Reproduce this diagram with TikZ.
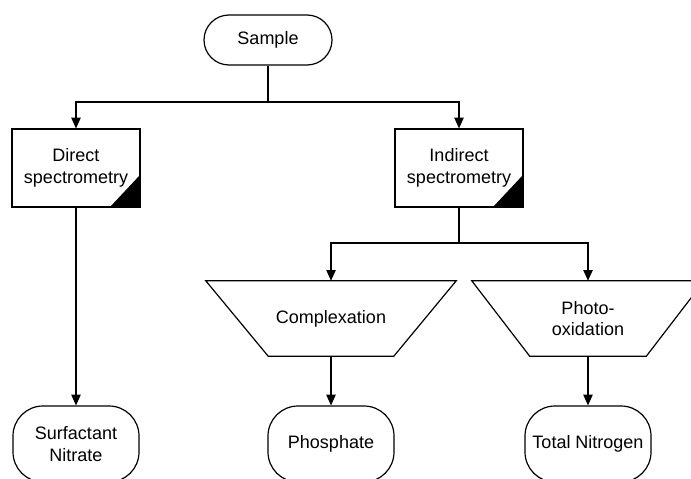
\documentclass[tikz,border=0pt]{standalone}
\usepackage{fontspec}
\setmainfont{Liberation Sans}
\usetikzlibrary{positioning,arrows.meta}

\begin{document}
\begin{tikzpicture}[x=0.75pt,y=-0.75pt,
    every node/.style={font=\fontsize{13.5}{16}\selectfont,align=center},
    line/.style={line width=0.9pt},
    arr/.style={line width=0.9pt,-{Triangle[length=8pt,width=7pt]}},
    startbox/.style={draw,line width=0.9pt,rounded corners=18.75pt,minimum width=96pt,minimum height=37.5pt},
    methodbox/.style={draw,line width=0.9pt,minimum width=96pt,minimum height=58.5pt,
        path picture={\fill ([xshift=-22.5pt]path picture bounding box.south east) -- (path picture bounding box.south east) -- ([yshift=24pt]path picture bounding box.south east) -- cycle;}},
    stepbox/.style={minimum height=56.25pt},
    resultbox/.style={draw,line width=0.9pt,rounded corners=22.5pt,minimum width=94.5pt,minimum height=57pt}]
\useasboundingbox (0,0) rectangle (691,478);
\clip (0,0) rectangle (691,478);

% Start
\node[startbox] (sample) at (268,40) {Sample};

% Two kinds of spectrometry
\node[methodbox] (direct) at (76,168) {Direct\\spectrometry};
\node[methodbox] (indirect) at (459,168) {Indirect\\spectrometry};

% Treatments before indirect measurement (trapezoids drawn round the nodes)
\node[stepbox,minimum width=187.5pt] (complex) at (331,318.5) {Complexation};
\node[stepbox,minimum width=174pt] (photo) at (588,318.5) {Photo-\\oxidation};
\draw[line] (complex.north west) -- (complex.north east) -- ([xshift=-46.875pt]complex.south east)
    -- ([xshift=46.875pt]complex.south west) -- cycle;
\draw[line] (photo.north west) -- (photo.north east) -- ([xshift=-43.5pt]photo.south east)
    -- ([xshift=43.5pt]photo.south west) -- cycle;

% Results (cut at the lower edge)
\node[resultbox] (surf) at (76,444) {Surfactant\\Nitrate};
\node[resultbox] (phos) at (331,444) {Phosphate};
\node[resultbox] (totn) at (588,444) {Total Nitrogen};

% Connectors
\coordinate (split1) at (268,102);
\coordinate (split2) at (459,243);
\draw[line] (sample) -- (split1);
\draw[arr] (split1) -| (direct);
\draw[arr] (split1) -| (indirect);
\draw[arr] (direct) -- (surf);
\draw[line] (indirect) -- (split2);
\draw[arr] (split2) -| (complex);
\draw[arr] (split2) -| (photo);
\draw[arr] (complex) -- (phos);
\draw[arr] (photo) -- (totn);

\end{tikzpicture}
\end{document}
